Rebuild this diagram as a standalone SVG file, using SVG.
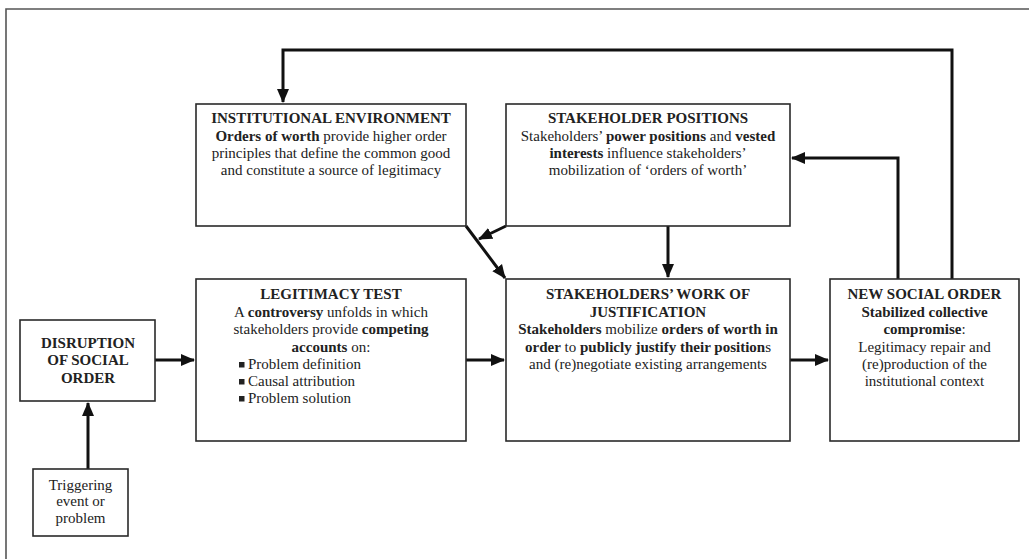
<svg xmlns="http://www.w3.org/2000/svg" width="1029" height="559" viewBox="0 0 1029 559" font-family="'Liberation Serif', 'DejaVu Serif', serif">
<defs>
<style>
.box{fill:#fff;stroke:#2a2a2a;stroke-width:1.6}
.frame{fill:none;stroke:#555;stroke-width:1.6}
.conn{fill:none;stroke:#111;stroke-width:3}
text{font-family:'Liberation Serif','DejaVu Serif',serif;font-size:15px;fill:#222;text-anchor:middle}
.b{font-weight:bold}
.l{text-anchor:start}
</style>
<marker id="ah" markerUnits="userSpaceOnUse" markerWidth="14" markerHeight="14" viewBox="0 0 14 14" refX="13" refY="7" orient="auto">
<path d="M0,1 L14,7 L0,13 Z" fill="#111"/>
</marker>
</defs>
<path class="frame" d="M6,559 V9 H1029"/>
<g id="connectors">
<path class="conn" d="M88,469 V403" marker-end="url(#ah)"/>
<path class="conn" d="M155,360 H194" marker-end="url(#ah)"/>
<path class="conn" d="M466,360 H504" marker-end="url(#ah)"/>
<path class="conn" d="M790,360 H828" marker-end="url(#ah)"/>
<path class="conn" d="M952,279 V50 H283 V102" marker-end="url(#ah)"/>
<path class="conn" d="M898,279 V158 H792" marker-end="url(#ah)"/>
<path class="conn" d="M668,226 V277" marker-end="url(#ah)"/>
<path class="conn" d="M466,226 L505,278" marker-end="url(#ah)"/>
<path class="conn" d="M506,226 L479,239" marker-end="url(#ah)"/>
</g>
<g id="institutional-environment">
<rect class="box" x="196" y="104" width="270" height="122"/>
<text x="331" y="123"><tspan class="b">INSTITUTIONAL ENVIRONMENT</tspan></text>
<text x="331" y="141"><tspan class="b">Orders of worth</tspan> provide higher order</text>
<text x="331" y="158">principles that define the common good</text>
<text x="331" y="175">and constitute a source of legitimacy</text>
</g>
<g id="stakeholder-positions">
<rect class="box" x="506" y="104" width="284" height="122"/>
<text x="648" y="123"><tspan class="b">STAKEHOLDER POSITIONS</tspan></text>
<text x="648" y="141">Stakeholders’ <tspan class="b">power positions</tspan> and <tspan class="b">vested</tspan></text>
<text x="648" y="158"><tspan class="b">interests</tspan> influence stakeholders’</text>
<text x="648" y="175">mobilization of ‘orders of worth’</text>
</g>
<g id="disruption">
<rect class="box" x="20" y="320" width="135" height="81"/>
<text x="88" y="348" class="b">DISRUPTION</text>
<text x="88" y="365" class="b">OF SOCIAL</text>
<text x="88" y="383" class="b">ORDER</text>
</g>
<g id="triggering">
<rect class="box" x="33" y="469" width="95" height="67"/>
<text x="80.5" y="490">Triggering</text>
<text x="80.5" y="506">event or</text>
<text x="80.5" y="523">problem</text>
</g>
<g id="legitimacy-test">
<rect class="box" x="196" y="279" width="270" height="162"/>
<text x="331" y="299" class="b">LEGITIMACY TEST</text>
<text x="331" y="317">A <tspan class="b">controversy</tspan> unfolds in which</text>
<text x="331" y="334">stakeholders provide <tspan class="b">competing</tspan></text>
<text x="331" y="352"><tspan class="b">accounts</tspan> on:</text>
<rect x="239" y="362" width="5.5" height="5.5" fill="#222"/>
<text x="248" y="369" class="l">Problem definition</text>
<rect x="239" y="379" width="5.5" height="5.5" fill="#222"/>
<text x="248" y="386" class="l">Causal attribution</text>
<rect x="239" y="396" width="5.5" height="5.5" fill="#222"/>
<text x="248" y="403" class="l">Problem solution</text>
</g>
<g id="work-of-justification">
<rect class="box" x="506" y="279" width="284" height="162"/>
<text x="648" y="299" class="b">STAKEHOLDERS’ WORK OF</text>
<text x="648" y="317" class="b">JUSTIFICATION</text>
<text x="648" y="334"><tspan class="b">Stakeholders</tspan> mobilize <tspan class="b">orders of worth in</tspan></text>
<text x="648" y="352"><tspan class="b">order</tspan> to <tspan class="b">publicly justify their position</tspan>s</text>
<text x="648" y="369">and (re)negotiate existing arrangements</text>
</g>
<g id="new-social-order">
<rect class="box" x="830" y="279" width="189" height="162"/>
<text x="924.5" y="299" class="b">NEW SOCIAL ORDER</text>
<text x="924.5" y="317" class="b">Stabilized collective</text>
<text x="924.5" y="334"><tspan class="b">compromise</tspan>:</text>
<text x="924.5" y="352">Legitimacy repair and</text>
<text x="924.5" y="369">(re)production of the</text>
<text x="924.5" y="386">institutional context</text>
</g>
</svg>
